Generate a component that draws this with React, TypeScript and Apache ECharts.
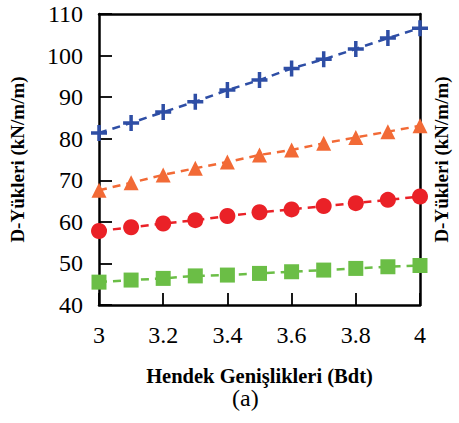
import React, { useEffect, useRef } from "react";
import * as echarts from "echarts";

// Trench widths (Bdt) on the x axis
const widths = [3.0, 3.1, 3.2, 3.3, 3.4, 3.5, 3.6, 3.7, 3.8, 3.9, 4.0];

// D-loads (kN/m/m) for the four cases
const seriesCross = [81.4, 83.8, 86.4, 88.9, 91.7, 94.1, 96.9, 99.1, 101.6, 104.2, 106.6];
const seriesTriangle = [67.6, 69.4, 71.3, 72.9, 74.4, 76.1, 77.3, 78.9, 80.3, 81.7, 83.1];
const seriesCircle = [57.8, 58.7, 59.6, 60.4, 61.4, 62.3, 63.0, 63.8, 64.5, 65.3, 66.1];
const seriesSquare = [45.5, 46.0, 46.4, 47.0, 47.2, 47.6, 48.0, 48.4, 48.8, 49.2, 49.5];

const yAxisName = "D-Yükleri (kN/m/m)";
const xAxisName = "Hendek Genişlikleri (Bdt)";
const caption = "(a)";

const SERIF = "Liberation Serif";
const CROSS =
  "path://M6.25,0h3.5v6.25h6.25v3.5h-6.25v6.25h-3.5v-6.25h-6.25v-3.5h6.25z";

function pairs(vals: number[]) {
  return widths.map((w, i) => [w, vals[i]]);
}

export default function App() {
  const ref = useRef<HTMLDivElement>(null);

  useEffect(() => {
    if (!ref.current) return;
    const chart = echarts.init(ref.current, null, { renderer: "svg" });

    const mk = (
      data: number[],
      color: string,
      symbol: string,
      symbolSize: number
    ) => ({
      type: "line",
      data: pairs(data),
      symbol,
      symbolSize,
      showAllSymbol: true,
      lineStyle: { color, width: 2.5, type: [8, 6] },
      itemStyle: { color, borderWidth: 0 },
      z: 3,
    });

    const nameStyle = (size: number) => ({
      fontFamily: SERIF,
      fontWeight: "bold",
      fontSize: size,
      color: "#000",
    });

    chart.setOption({
      animation: false,
      backgroundColor: "#ffffff",
      textStyle: { fontFamily: SERIF },
      grid: { left: 96, right: 28, top: 14, bottom: 118, containLabel: false },
      xAxis: [
        {
          type: "value",
          min: 3,
          max: 4,
          interval: 0.2,
          position: "bottom",
          name: xAxisName,
          nameLocation: "middle",
          nameGap: 60,
          nameTextStyle: nameStyle(20.5),
          axisLine: { show: true, onZero: false, lineStyle: { color: "#000", width: 2.5 } },
          axisTick: { show: true, inside: true, length: 12, lineStyle: { color: "#000", width: 1.8 } },
          axisLabel: {
            margin: 18,
            fontFamily: SERIF,
            fontSize: 24,
            color: "#000",
            formatter: (v: number) => String(Math.round(v * 10) / 10),
          },
          splitLine: { show: false },
        },
        {
          type: "value",
          min: 3,
          max: 4,
          position: "top",
          axisLine: { show: true, lineStyle: { color: "#000", width: 2.5 } },
          axisTick: { show: false },
          axisLabel: { show: false },
          splitLine: { show: false },
        },
      ],
      yAxis: [
        {
          type: "value",
          min: 40,
          max: 110,
          interval: 10,
          position: "left",
          name: yAxisName,
          nameLocation: "middle",
          nameRotate: 90,
          nameGap: 72,
          nameTextStyle: nameStyle(19),
          axisLine: { show: true, onZero: false, lineStyle: { color: "#000", width: 2.5 } },
          axisTick: { show: true, inside: true, length: 13, lineStyle: { color: "#000", width: 1.8 } },
          axisLabel: { margin: 16, fontFamily: SERIF, fontSize: 24, color: "#000" },
          splitLine: { show: false },
        },
        {
          type: "value",
          min: 40,
          max: 110,
          position: "right",
          name: yAxisName,
          nameLocation: "middle",
          nameRotate: 90,
          nameGap: 12,
          nameTextStyle: nameStyle(19),
          axisLine: { show: true, onZero: false, lineStyle: { color: "#000", width: 2.5 } },
          axisTick: { show: false },
          axisLabel: { show: false },
          splitLine: { show: false },
        },
      ],
      graphic: [
        {
          type: "text",
          left: 232,
          top: 386,
          style: { text: caption, fontFamily: SERIF, fontSize: 24, fill: "#000" },
        },
      ],
      series: [
        mk(seriesCross, "#2E4EA5", CROSS, 16),
        mk(seriesTriangle, "#F26A36", "triangle", 15),
        mk(seriesCircle, "#EA2127", "circle", 16),
        mk(seriesSquare, "#6BBE46", "rect", 15),
      ],
    });

    return () => chart.dispose();
  }, []);

  return (
    <div
      ref={ref}
      style={{ position: "absolute", left: 0, top: 0, width: 459, height: 423 }}
    />
  );
}
